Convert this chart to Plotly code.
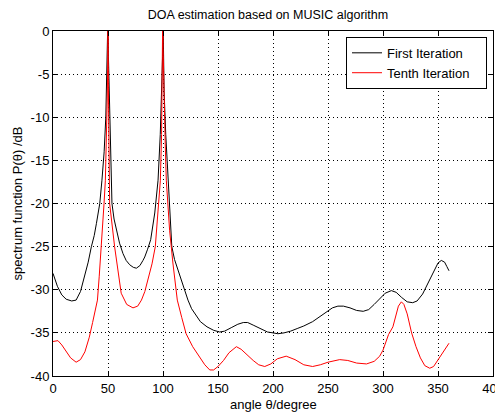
import plotly.graph_objects as go

first_angle = [0, 4, 8, 12, 17, 21, 25, 28.8, 32, 34.9, 37.5, 39.5, 42.5, 44.5, 46.5, 48, 49, 49.6, 50,
               50.4, 51, 52, 53, 53.6, 55.5, 57.6, 60.5, 63.6, 66.5, 69.7, 73, 75.8, 79, 81.8, 83.4, 86,
               88.8, 92.5, 95.5, 97.5, 99, 99.6, 100, 100.4, 101, 102.5, 104.5, 106, 108, 110.5, 113.6,
               117, 120, 122.7, 126, 130, 134, 140, 146, 151.5, 156, 162, 168, 173, 177, 182, 188, 195,
               200, 204.5, 210, 216, 222, 228, 236, 242, 248, 254, 259, 264, 270, 276, 282, 287, 292, 297,
               302, 307.6, 312, 317, 322, 327, 331, 336, 339.5, 343, 346, 350, 353, 356, 358, 360]
first_db = [-28.1, -29.6, -30.6, -31.1, -31.3, -31.2, -30.2, -28.5, -26.8, -25.0, -23.7, -22.3, -20.0, -17.3,
            -14.0, -10.0, -6.0, -3.0, 2.0, -3.0, -6.0, -10.0, -15.0, -20.0, -21.8, -23.1, -24.6, -25.8, -26.6,
            -27.1, -27.4, -27.5, -27.2, -26.6, -26.2, -25.3, -24.2, -21.1, -17.3, -12.0, -7.0, -3.0, 2.0,
            -3.0, -7.0, -12.0, -17.3, -21.5, -25.0, -26.5, -27.7, -29.2, -30.4, -31.2, -32.2, -33.0, -33.7,
            -34.3, -34.7, -34.9, -34.8, -34.4, -34.0, -33.8, -33.8, -34.1, -34.5, -34.9, -35.0, -35.1, -35.0,
            -34.8, -34.5, -34.2, -33.7, -33.2, -32.6, -32.1, -31.9, -31.9, -32.1, -32.4, -32.5, -32.3, -31.7,
            -31.0, -30.4, -30.1, -30.3, -30.9, -31.4, -31.5, -31.3, -30.5, -29.6, -28.6, -27.8, -26.9, -26.6,
            -26.8, -27.3, -27.8]

tenth_angle = [0, 4.5, 8, 12, 16, 21, 25, 29, 33, 36, 38.5, 40.4, 42, 44, 46.4, 47.6, 48.6, 49.3, 49.8, 50,
               50.2, 50.6, 50.8, 51.5, 56, 59, 62, 67, 72.7, 77, 80.4, 83.5, 86.4, 90, 93, 96, 97.6, 98.7,
               99.5, 99.9, 100, 100.1, 100.8, 102, 103, 106, 109, 113, 117, 121, 127, 133, 138, 142.5, 146,
               150, 155, 160, 166.7, 171, 176, 182, 187, 192.5, 198, 204, 212, 220, 228, 236, 243, 250, 260.6,
               268, 276, 285, 292, 297, 300, 305, 309, 314, 316.7, 319, 322, 326, 330, 334, 338, 342.5, 346,
               350, 355, 360]
tenth_db = [-36.0, -35.9, -36.4, -37.2, -37.9, -38.4, -38.1, -37.2, -35.5, -33.8, -32.4, -31.2, -28.5, -25.0,
            -20.0, -17.3, -13.0, -8.0, -3.0, 5.0, -3.0, -10.0, -17.3, -20.0, -25.0, -28.0, -30.4, -31.7,
            -32.1, -31.9, -31.2, -30.2, -28.9, -27.0, -25.0, -20.4, -17.3, -12.0, -6.0, -2.0, 5.0, -2.0,
            -8.0, -13.0, -17.3, -23.1, -26.9, -31.2, -33.2, -35.1, -36.6, -37.8, -38.7, -39.3, -39.3, -38.9,
            -38.2, -37.3, -36.6, -36.9, -37.5, -38.2, -38.7, -38.9, -38.6, -38.0, -37.7, -38.1, -38.7, -38.9,
            -38.7, -38.4, -38.1, -38.2, -38.5, -38.6, -38.3, -37.7, -37.0, -35.2, -34.3, -31.9, -31.4, -31.7,
            -32.8, -35.0, -36.6, -37.9, -38.8, -39.1, -38.9, -38.1, -37.2, -36.2]

x_ticks = [0, 50, 100, 150, 200, 250, 300, 350, 400]
y_ticks = [-40, -35, -30, -25, -20, -15, -10, -5, 0]

FONT = "Liberation Sans, Arial, sans-serif"
W, H = 503, 406
ML, MR, MT, MB = 45, 18, 23, 38
PW = W - ML - MR

fig = go.Figure()
fig.add_trace(go.Scatter(x=first_angle, y=first_db, mode="lines", name="First Iteration\u00a0\u00a0\u00a0",
                         line=dict(color="#000000", width=1)))
fig.add_trace(go.Scatter(x=tenth_angle, y=tenth_db, mode="lines", name="Tenth Iteration\u00a0\u00a0\u00a0",
                         line=dict(color="#ff0000", width=1)))

axis_common = dict(showline=True, linecolor="#000000", linewidth=1, mirror="ticks",
                   ticks="inside", ticklen=5, tickcolor="#000000", automargin=False,
                   ticklabeloverflow="allow",
                   showgrid=True, gridcolor="#000000", griddash="1px,3px", gridwidth=1,
                   zeroline=False, tickfont=dict(family=FONT, size=13, color="#000000"))

fig.update_xaxes(range=[0, 400], tickvals=x_ticks, ticktext=[str(v) for v in x_ticks], **axis_common)
fig.update_yaxes(range=[-40, 0], tickvals=y_ticks, ticktext=[str(v) for v in y_ticks], **axis_common)

plot_h = H - MT - MB
fig.add_annotation(text="angle θ/degree", xref="paper", yref="paper", x=0.5,
                   y=-(396 - (H - MB)) / plot_h, xanchor="center", yanchor="middle", showarrow=False,
                   font=dict(family=FONT, size=13, color="#000000"))
fig.add_annotation(text="spectrum function P(θ) /dB", xref="paper", yref="paper",
                   x=-(ML - 9) / PW, y=0.5, xanchor="center", yanchor="middle",
                   textangle=-90, showarrow=False, font=dict(family=FONT, size=13, color="#000000"))

fig.update_layout(
    width=W, height=H,
    margin=dict(l=ML, r=MR, t=MT, b=MB),
    paper_bgcolor="white", plot_bgcolor="white",
    title=dict(text="DOA estimation based on MUSIC algorithm", x=(260 - 0) / W, xanchor="center",
               y=1 - 7 / H, yanchor="middle", font=dict(family=FONT, size=12.5, color="#000000")),
    legend=dict(x=(479 - ML) / PW, y=0.983, xanchor="right", yanchor="top", bordercolor="#000000",
                borderwidth=1, bgcolor="white",
                font=dict(family=FONT, size=13, color="#000000")),
    showlegend=True,
)

fig.write_html("out.html")
